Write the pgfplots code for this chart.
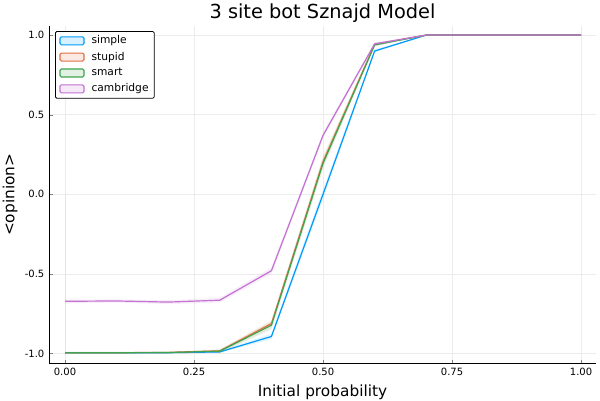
\documentclass[border=0pt]{standalone}
\usepackage{pgfplots}
\pgfplotsset{compat=1.18}
\usepackage{fontspec}
\setmainfont{DejaVu Sans}
\definecolor{jblue}{HTML}{009AFA}
\definecolor{jred}{HTML}{E36F47}
\definecolor{jgreen}{HTML}{3EA44E}
\definecolor{jpurple}{HTML}{C371D2}
\pgfplotsset{
  ribbon/.style={fill=#1, fill opacity=0.12, draw=none, forget plot},
  series/.style={color=#1, line width=0.9pt, no marks,
    legend image code/.code={
      \draw[fill=#1!15, draw=#1, line width=0.8pt] (0pt,-3pt) rectangle (18pt,3pt);
      \path (22pt,0pt);}},
}
\begin{document}
\begin{tikzpicture}
\begin{axis}[
  scale only axis,
  width=410pt, height=253pt,
  xmin=-0.031, xmax=1.029,
  ymin=-1.063, ymax=1.057,
  axis lines=left,
  axis line style={-, line width=0.6pt},
  tick align=inside,
  major tick length=3pt,
  xtick={0,0.25,0.5,0.75,1},
  xticklabels={0.00,0.25,0.50,0.75,1.00},
  ytick={-1,-0.5,0,0.5,1},
  yticklabels={-1.0,-0.5,0.0,0.5,1.0},
  tick label style={font=\fontsize{7.5}{9}\selectfont},
  grid=major,
  grid style={gray!15, line width=0.4pt},
  title={3 site bot Sznajd Model},
  title style={font=\fontsize{14.5}{16}\selectfont, yshift=-7pt},
  xlabel={Initial probability},
  ylabel={<opinion>},
  label style={font=\fontsize{11.5}{13}\selectfont},
  xlabel style={yshift=0pt},
  ylabel style={yshift=-1.5pt},
  legend style={font=\fontsize{8}{9.5}\selectfont, draw=black, line width=0.6pt,
    rounded corners=1pt, row sep=2.2pt, at={(0.011,0.985)}, anchor=north west,
    inner xsep=3pt, inner ysep=2pt, nodes={inner sep=1.2pt}},
  legend cell align=left,
]
% ribbons
\addplot[ribbon=jblue] coordinates {(0,-0.99)(0.1,-0.99)(0.2,-0.99)(0.3,-0.985)(0.4,-0.875)(0.5,0.03)(0.6,0.91)(0.7,1)(1,1)
  (1,1)(0.7,1)(0.6,0.89)(0.5,-0.03)(0.4,-0.91)(0.3,-0.995)(0.2,-1)(0.1,-1)(0,-1)} \closedcycle;
\addplot[ribbon=jred] coordinates {(0,-0.99)(0.1,-0.99)(0.2,-0.99)(0.3,-0.975)(0.4,-0.79)(0.5,0.24)(0.6,0.95)(0.7,1)(1,1)
  (1,1)(0.7,1)(0.6,0.93)(0.5,0.17)(0.4,-0.84)(0.3,-0.995)(0.2,-1)(0.1,-1)(0,-1)} \closedcycle;
\addplot[ribbon=jgreen] coordinates {(0,-0.99)(0.1,-0.99)(0.2,-0.99)(0.3,-0.975)(0.4,-0.80)(0.5,0.23)(0.6,0.95)(0.7,1)(1,1)
  (1,1)(0.7,1)(0.6,0.93)(0.5,0.16)(0.4,-0.85)(0.3,-0.995)(0.2,-1)(0.1,-1)(0,-1)} \closedcycle;
\addplot[ribbon=jpurple] coordinates {(0,-0.66)(0.1,-0.66)(0.2,-0.665)(0.3,-0.65)(0.4,-0.46)(0.5,0.39)(0.6,0.955)(0.7,1)(1,1)
  (1,1)(0.7,1)(0.6,0.935)(0.5,0.35)(0.4,-0.50)(0.3,-0.68)(0.2,-0.69)(0.1,-0.68)(0,-0.685)} \closedcycle;
% means
\addplot[series=jblue] coordinates {
  (0,-0.995)(0.1,-0.995)(0.2,-0.995)(0.3,-0.99)(0.4,-0.893)(0.5,0.0)(0.6,0.90)(0.7,1.0)(0.8,1.0)(0.9,1.0)(1.0,1.0)};
\addlegendentry{simple}
\addplot[series=jred] coordinates {
  (0,-0.995)(0.1,-0.995)(0.2,-0.993)(0.3,-0.983)(0.4,-0.812)(0.5,0.205)(0.6,0.942)(0.7,1.0)(0.8,1.0)(0.9,1.0)(1.0,1.0)};
\addlegendentry{stupid}
\addplot[series=jgreen] coordinates {
  (0,-0.995)(0.1,-0.995)(0.2,-0.994)(0.3,-0.985)(0.4,-0.822)(0.5,0.195)(0.6,0.938)(0.7,1.0)(0.8,1.0)(0.9,1.0)(1.0,1.0)};
\addlegendentry{smart}
\addplot[series=jpurple] coordinates {
  (0,-0.672)(0.1,-0.670)(0.2,-0.677)(0.3,-0.665)(0.4,-0.48)(0.5,0.37)(0.6,0.945)(0.7,1.0)(0.8,1.0)(0.9,1.0)(1.0,1.0)};
\addlegendentry{cambridge}
\end{axis}
\pgfresetboundingbox
\path (current axis.south west) ++(-36.75pt,-27.75pt) coordinate (bbsw);
\path (current axis.north east) ++(3pt,19.5pt) coordinate (bbne);
\useasboundingbox (bbsw) rectangle (bbne);
\end{tikzpicture}
\end{document}
